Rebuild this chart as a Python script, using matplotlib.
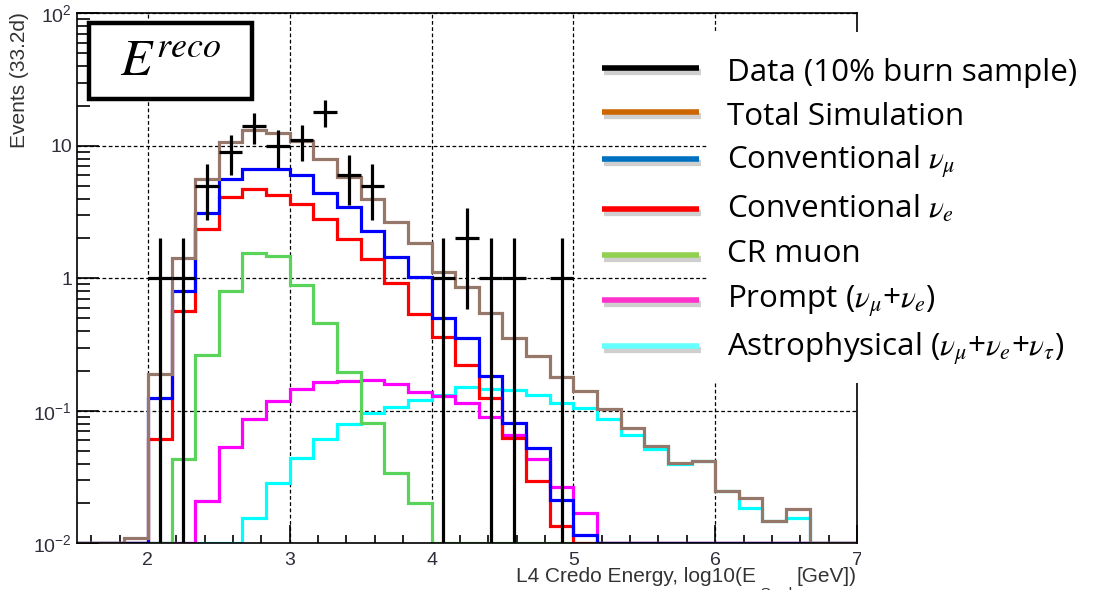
import numpy as np
import matplotlib
matplotlib.use('Agg')
import matplotlib.pyplot as plt
from matplotlib.patches import Rectangle
from matplotlib.lines import Line2D
from matplotlib.ticker import FixedLocator, FixedFormatter, MultipleLocator, LogLocator, NullFormatter

# ---------------- data (33 bins, log10(E) from 1.5 to 7.0) ----------------
bin_lo, bin_hi, n_bins = 1.5, 7.0, 33

total_sim = [0, 0, 0.011, 0.19, 1.42, 5.65, 10.6, 13.2, 12.4, 10.9, 7.9, 5.85, 4.0,
             2.67, 1.84, 1.12, 0.855, 0.544, 0.352, 0.259, 0.179, 0.142, 0.104,
             0.0746, 0.0546, 0.0406, 0.042, 0.0249, 0.0219, 0.0148, 0.0181, 0, 0]
conv_numu = [0, 0, 0, 0.126, 0.80, 3.09, 5.65, 6.65, 6.65, 6.0, 4.43, 3.43, 2.29,
             1.46, 1.03, 0.499, 0.352, 0.184, 0.0813, 0.0527, 0.0212, 0.0116, 0,
             0, 0, 0, 0, 0, 0, 0, 0, 0, 0]
conv_nue = [0, 0, 0, 0.0616, 0.567, 2.34, 4.13, 4.7, 4.23, 3.65, 2.79, 1.99, 1.39,
            0.917, 0.538, 0.359, 0.222, 0.126, 0.0623, 0.0297, 0.0135, 0, 0,
            0, 0, 0, 0, 0, 0, 0, 0, 0, 0]
cr_muon = [0, 0, 0, 0, 0.043, 0.265, 0.806, 1.545, 1.47, 0.89, 0.462, 0.195, 0.0805,
           0.0338, 0.02, 0, 0, 0, 0, 0, 0, 0, 0,
           0, 0, 0, 0, 0, 0, 0, 0, 0, 0]
prompt = [0, 0, 0, 0, 0, 0.0209, 0.053, 0.0871, 0.119, 0.146, 0.164, 0.168, 0.171,
          0.159, 0.139, 0.13, 0.115, 0.0902, 0.0657, 0.043, 0.0267, 0.0168, 0,
          0, 0, 0, 0, 0, 0, 0, 0, 0, 0]
astro = [0, 0, 0, 0, 0, 0, 0, 0.0156, 0.0284, 0.0438, 0.061, 0.0795, 0.0968,
         0.106, 0.121, 0.132, 0.152, 0.147, 0.1436, 0.1316, 0.115, 0.1044, 0.0863,
         0.0657, 0.0515, 0.0397, 0.042, 0.0249, 0.0186, 0.0148, 0.0155, 0, 0]
data_counts = [0, 0, 0, 1, 1, 5, 9, 14, 10, 11, 18, 6, 5, 0, 0, 1, 2, 1, 1, 0, 1, 0, 0,
               0, 0, 0, 0, 0, 0, 0, 0, 0, 0]

legend_labels = ['Data (10% burn sample)', 'Total Simulation', r'Conventional $\nu_\mu$',
                 r'Conventional $\nu_e$', 'CR muon', r'Prompt ($\nu_\mu$+$\nu_e$)',
                 r'Astrophysical ($\nu_\mu$+$\nu_e$+$\nu_\tau$)']
legend_colors = ['#000000', '#CC6600', '#0070C0', '#FF0000', '#92D050', '#FF33CC', '#66FFFF']

y_tick_vals = [0.01, 0.1, 1, 10, 100]
y_tick_labels = [r'$\mathregular{10^{-2}}$', r'$\mathregular{10^{-1}}$', '1', '10', r'$\mathregular{10^{2}}$']
x_tick_vals = [2, 3, 4, 5, 6, 7]

# ---------------- figure ----------------
plt.rcParams['font.family'] = ['Liberation Sans', 'DejaVu Sans']
plt.rcParams['mathtext.fontset'] = 'stix'

W, H = 1101, 590
fig = plt.figure(figsize=(W / 100, H / 100), dpi=100)


def fx(px):
    return px / W


def fy(py):
    return 1 - py / H


ax = fig.add_axes([fx(77), fy(543.3), fx(857) - fx(77), (543.3 - 13.3) / H])
ax.set_yscale('log')
ax.set_xlim(bin_lo, bin_hi)
ax.set_ylim(0.01, 100)

edges = np.linspace(bin_lo, bin_hi, n_bins + 1)
centers = 0.5 * (edges[:-1] + edges[1:])
floor = 0.01

hist_series = [(astro, '#00ffff', 2.0), (prompt, '#ff00ff', 2.1), (cr_muon, '#5ad35a', 2.2),
               (conv_nue, '#ff0000', 2.3), (conv_numu, '#0000ff', 2.4), (total_sim, '#96786a', 2.5)]
for vals, col, z in hist_series:
    v = np.clip(np.asarray(vals, float), floor, None)
    ax.stairs(v, edges, baseline=None, color=col, lw=2.3, zorder=z)

counts = np.asarray(data_counts, float)
m = counts > 0
err = np.sqrt(counts[m])
lower = np.minimum(err, counts[m] * 0.999)
ax.errorbar(centers[m], counts[m], xerr=(edges[1] - edges[0]) / 2, yerr=[lower, err],
            fmt='none', ecolor='black', elinewidth=2.3, capsize=0, zorder=10)

# grid & ticks
ax.grid(True, which='major', color='black', ls=(0, (3, 2)), lw=0.9)
ax.xaxis.set_major_locator(FixedLocator(x_tick_vals))
ax.xaxis.set_minor_locator(MultipleLocator(0.2))
ax.yaxis.set_major_locator(FixedLocator(y_tick_vals))
ax.yaxis.set_major_formatter(FixedFormatter(y_tick_labels))
ax.yaxis.set_minor_locator(LogLocator(base=10, subs=np.arange(2, 10)))
ax.yaxis.set_minor_formatter(NullFormatter())
ax.tick_params(which='both', direction='in', top=False, right=False, colors='black',
               labelcolor='#2e2e3a', labelsize=14)
ax.tick_params(axis='x', which='major', length=13, width=1.2, pad=6)
ax.tick_params(axis='x', which='minor', length=6, width=1.2)
ax.tick_params(axis='y', which='major', length=16, width=1.2, pad=3.5)
ax.tick_params(axis='y', which='minor', length=9, width=1.2)
for s in ax.spines.values():
    s.set_linewidth(1.2)

# axis titles (ROOT style)
fig.text(fx(20), fy(12), 'Events (33.2d)', rotation=90, ha='center', va='top',
         fontsize=15, color='#333333')
fig.text(fx(756), fy(582), 'L4 Credo Energy, log10(E', ha='right', va='baseline',
         fontsize=15, color='#333333')
fig.text(fx(857), fy(582), '[GeV])', ha='right', va='baseline', fontsize=15, color='#333333')
fig.text(fx(759), fy(598), 'Credo', ha='left', va='baseline', fontsize=11, color='#333333')

# white legend panel (pasted on top of plot)
fig.patches.append(Rectangle((fx(707), fy(383)), 1 - fx(707), fy(32) - fy(383),
                             transform=fig.transFigure, facecolor='white', edgecolor='none', zorder=5))
fig.patches.append(Rectangle((fx(861), 0), 1 - fx(861), fy(383),
                             transform=fig.transFigure, facecolor='white', edgecolor='none', zorder=5))

handle_y = [68, 112, 159, 209, 255, 300, 346]
text_base = [80.7, 125, 170, 217.7, 262.3, 308.3, 356.7]
for lab, col, hy, tb in zip(legend_labels, legend_colors, handle_y, text_base):
    fig.add_artist(Line2D([fx(604), fx(701)], [fy(hy + 4), fy(hy + 4)], transform=fig.transFigure,
                          color='#cfcfcf', lw=4.5, solid_capstyle='butt', zorder=6))
    fig.add_artist(Line2D([fx(602), fx(699)], [fy(hy), fy(hy)], transform=fig.transFigure,
                          color=col, lw=4.0, solid_capstyle='butt', zorder=7))
    fig.text(fx(727), fy(tb), lab, ha='left', va='baseline', fontsize=22.6,
             family=['Open Sans', 'DejaVu Sans'], color='black', zorder=8)

# E^reco box
fig.patches.append(Rectangle((fx(89), fy(99.3)), fx(252) - fx(89), fy(22.7) - fy(99.3),
                             transform=fig.transFigure, facecolor='white', edgecolor='black',
                             lw=3.2, zorder=6))
fig.text(fx(170.5), fy(62), r'$E^{reco}$', ha='center', va='center', fontsize=37, zorder=7)

fig.savefig('out.png', dpi=100)
